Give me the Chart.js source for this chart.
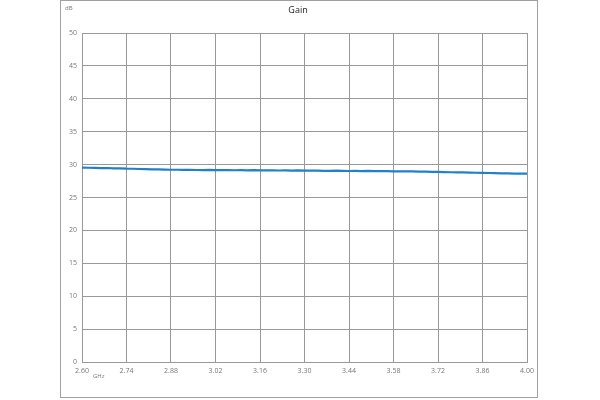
<!DOCTYPE html>
<html>
<head>
<meta charset="utf-8">
<script src="https://cdn.jsdelivr.net/npm/chart.js@4"></script>
<style>
  html, body { margin: 0; padding: 0; background: #fff; }
  #frame { position: absolute; left: 60px; top: 0px; width: 478px; height: 398px; box-sizing: border-box; border: 1px solid #a0a0a0; }
  #frame canvas { display: block; }
</style>
</head>
<body>
<div id="frame"><canvas id="c" width="476" height="396"></canvas></div>
<script>
const chartTitle = 'Gain';
const yUnit = 'dB';
const xUnit = 'GHz';
const xTickValues = [2.60, 2.74, 2.88, 3.02, 3.16, 3.30, 3.44, 3.58, 3.72, 3.86, 4.00];
const frequencies = [
  2.60, 2.62, 2.64, 2.66, 2.68, 2.70, 2.72, 2.74, 2.76, 2.78,
  2.80, 2.82, 2.84, 2.86, 2.88, 2.90, 2.92, 2.94, 2.96, 2.98,
  3.00, 3.02, 3.04, 3.06, 3.08, 3.10, 3.12, 3.14, 3.16, 3.18,
  3.20, 3.22, 3.24, 3.26, 3.28, 3.30, 3.32, 3.34, 3.36, 3.38,
  3.40, 3.42, 3.44, 3.46, 3.48, 3.50, 3.52, 3.54, 3.56, 3.58,
  3.60, 3.62, 3.64, 3.66, 3.68, 3.70, 3.72, 3.74, 3.76, 3.78,
  3.80, 3.82, 3.84, 3.86, 3.88, 3.90, 3.92, 3.94, 3.96, 3.98,
  4.00
];
const gainDb = [
  29.55, 29.52, 29.51, 29.47, 29.48, 29.44, 29.42, 29.38, 29.37, 29.33,
  29.31, 29.28, 29.27, 29.24, 29.22, 29.22, 29.19, 29.21, 29.18, 29.17,
  29.19, 29.16, 29.15, 29.17, 29.14, 29.16, 29.13, 29.15, 29.12, 29.11,
  29.13, 29.10, 29.12, 29.09, 29.11, 29.08, 29.07, 29.09, 29.06, 29.05,
  29.07, 29.04, 29.03, 29.05, 29.02, 29.04, 29.01, 29.00, 29.02, 28.98,
  28.98, 28.96, 28.96, 28.94, 28.93, 28.90, 28.89, 28.86, 28.84, 28.81,
  28.81, 28.78, 28.76, 28.73, 28.72, 28.69, 28.68, 28.66, 28.64, 28.64,
  28.62
];
const yMin = 0, yMax = 50, yStep = 5;

const labelsPlugin = {
  id: 'extraLabels',
  afterDraw(chart) {
    const ctx = chart.ctx;
    ctx.save();
    ctx.fillStyle = '#222';
    ctx.font = '9px "Open Sans", sans-serif';
    ctx.textAlign = 'center';
    ctx.textBaseline = 'middle';
    ctx.fillText(chartTitle, 237, 9);
    ctx.fillStyle = '#777';
    ctx.font = '6px "Open Sans", sans-serif';
    ctx.textAlign = 'left';
    ctx.fillText(yUnit, 4, 7);
    ctx.fillText(xUnit, 32, 375);
    ctx.restore();
  }
};

new Chart(document.getElementById('c'), {
  type: 'line',
  data: {
    datasets: [{
      data: frequencies.map((f, i) => ({ x: f, y: gainDb[i] })),
      borderColor: '#1f80cc',
      borderWidth: 2.2,
      pointRadius: 0,
      tension: 0,
      fill: false
    }]
  },
  options: {
    responsive: false,
    animation: false,
    devicePixelRatio: 1,
    layout: { padding: { left: 0, right: 10, top: 32, bottom: 0 } },
    plugins: { legend: { display: false }, tooltip: { enabled: false }, title: { display: false } },
    scales: {
      x: {
        type: 'linear',
        min: 2.6, max: 4.0,
        afterBuildTicks(scale) { scale.ticks = xTickValues.map(v => ({ value: v })); },
        afterFit(scale) { scale.height = 35; scale.paddingLeft = 0; scale.paddingRight = 0; },
        grid: { color: '#999999', lineWidth: 1, drawTicks: false },
        border: { color: '#999999', width: 1 },
        ticks: {
          padding: 5,
          color: '#777',
          font: { family: '"Open Sans", sans-serif', size: 7 },
          maxRotation: 0,
          autoSkip: false,
          callback: v => Number(v).toFixed(2)
        }
      },
      y: {
        min: yMin, max: yMax,
        afterFit(scale) { scale.width = 21; },
        grid: { color: '#999999', lineWidth: 1, drawTicks: false },
        border: { color: '#999999', width: 1 },
        ticks: {
          stepSize: yStep,
          padding: 5,
          color: '#777',
          font: { family: '"Open Sans", sans-serif', size: 7 }
        }
      }
    }
  },
  plugins: [labelsPlugin]
});
</script>
</body>
</html>
